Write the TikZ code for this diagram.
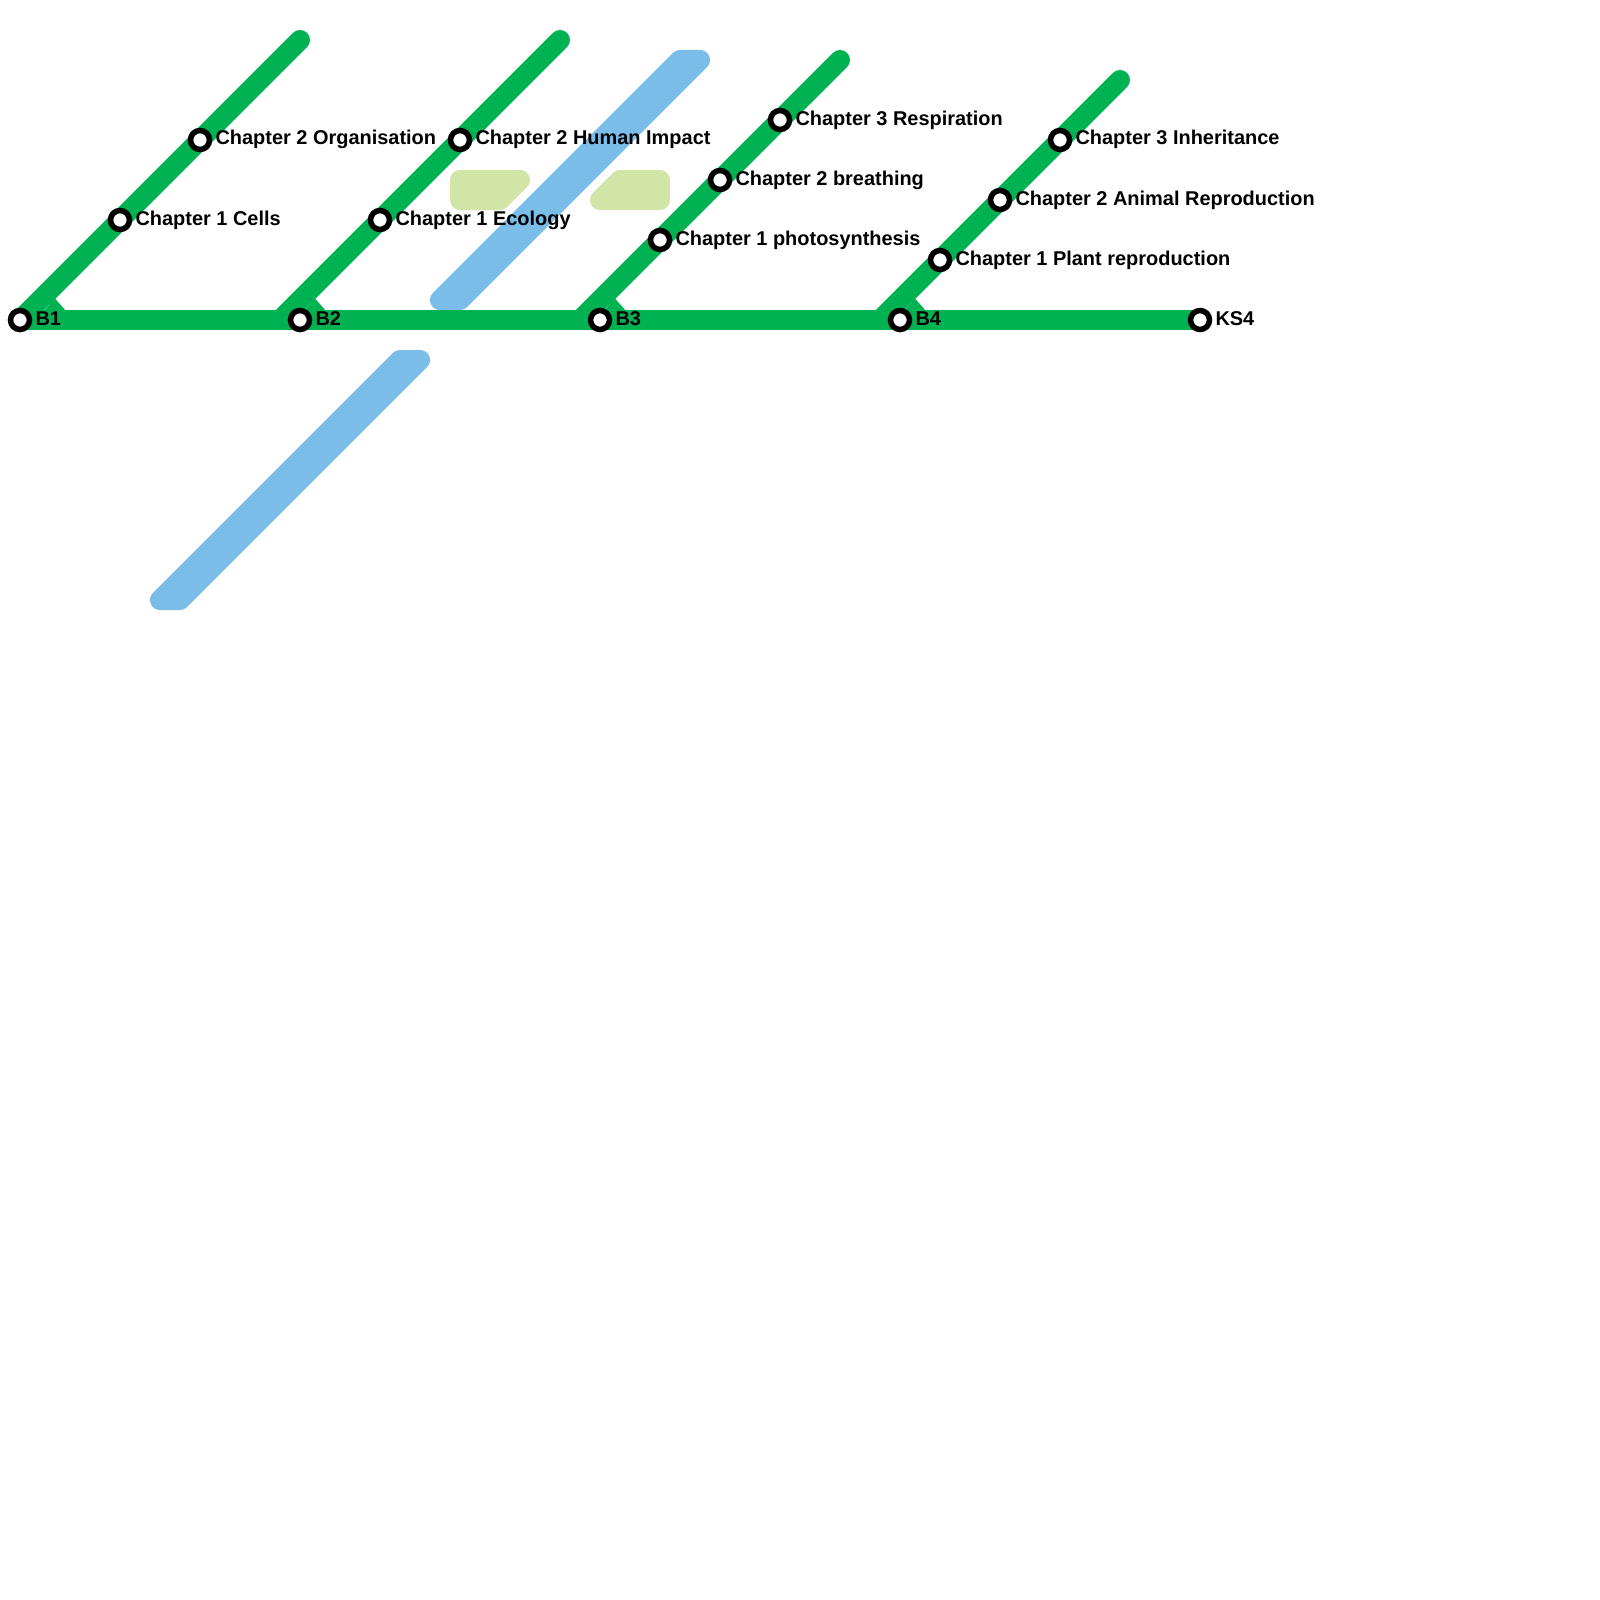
\documentclass[tikz,border=0pt]{standalone}
\usepackage{fontspec}
\setmainfont{Liberation Sans}
\usetikzlibrary{backgrounds}
\definecolor{linegreen}{HTML}{00B251}
\definecolor{lineblue}{HTML}{79BDE8}
\definecolor{palegreen}{HTML}{D0E5A6}
\tikzset{
  x=1pt,y=-1pt,
  stn/.style={circle,draw=black,fill=white,line width=5.5pt,minimum size=19pt,inner sep=0pt,outer sep=0pt},
  lbl/.style={anchor=base west,inner sep=0pt,outer sep=0pt,font=\fontsize{19.95}{24}\selectfont\bfseries,text=black},
  gline/.style={draw=linegreen,line width=20pt,line cap=round},
  gjoin/.style={fill=linegreen},
  bluearea/.style={draw=lineblue,fill=lineblue,line width=20pt,line join=round},
  palearea/.style={draw=palegreen,fill=palegreen,line width=20pt,line join=round},
}
\begin{document}
\begin{tikzpicture}
\useasboundingbox (0,0) rectangle (1600,1600);
% stations
\node[stn] (b1) at (20,320) {};
\node[stn] (b2) at (300,320) {};
\node[stn] (b3) at (600,320) {};
\node[stn] (b4) at (900,320) {};
\node[stn] (ks4) at (1200,320) {};
\node[stn] (a1) at (120,220) {};
\node[stn] (a2) at (200,140) {};
\node[stn] (c1) at (380,220) {};
\node[stn] (c2) at (460,140) {};
\node[stn] (d1) at (660,240) {};
\node[stn] (d2) at (720,180) {};
\node[stn] (d3) at (780,120) {};
\node[stn] (e1) at (940,260) {};
\node[stn] (e2) at (1000,200) {};
\node[stn] (e3) at (1060,140) {};
% free ends
\coordinate (ta) at (300,40);
\coordinate (tc) at (560,40);
\coordinate (td) at (840,60);
\coordinate (te) at (1120,80);
\coordinate (ba) at (20,320);
\coordinate (bc) at (280,320);
\coordinate (bd) at (580,320);
\coordinate (be) at (880,320);
% labels
\node[lbl] (tb1) at (35.5,325) {B1};
\node[lbl] (tb2) at (315.5,325) {B2};
\node[lbl] (tb3) at (615.5,325) {B3};
\node[lbl] (tb4) at (915.5,325) {B4};
\node[lbl] (tks4) at (1215.5,325) {KS4};
\node[lbl] (ta1) at (135.5,225) {Chapter 1 Cells};
\node[lbl] (ta2) at (215.5,145) {Chapter 2 Organisation};
\node[lbl] (tc1) at (395.5,225) {Chapter 1 Ecology};
\node[lbl] (tc2) at (475.5,145) {Chapter 2 Human Impact};
\node[lbl] (td1) at (675.5,245) {Chapter 1 photosynthesis};
\node[lbl] (td2) at (735.5,185) {Chapter 2 breathing};
\node[lbl] (td3) at (795.5,125) {Chapter 3 Respiration};
\node[lbl] (te1) at (955.5,265) {Chapter 1 Plant reproduction};
\node[lbl] (te2) at (1015.5,205) {Chapter 2 Animal Reproduction};
\node[lbl] (te3) at (1075.5,145) {Chapter 3 Inheritance};
\begin{scope}[on background layer]
  \fill[white] (0,0) rectangle (1600,1600);
  % pale areas
  \path[palearea] (460,180) -- (520,180) -- (500,200) -- (460,200) -- cycle;
  \path[palearea] (620,180) -- (660,180) -- (660,200) -- (600,200) -- cycle;
  % blue areas
  \path[bluearea] (680,60) -- (700,60) -- (460,300) -- (440,300) -- cycle;
  \path[bluearea] (400,360) -- (420,360) -- (180,600) -- (160,600) -- cycle;
  % green lines
  \draw[gline] (ta) -- (a2.center) -- (a1.center) -- (ba);
  \draw[gline] (tc) -- (c2.center) -- (c1.center) -- (bc);
  \draw[gline] (td) -- (d3.center) -- (d2.center) -- (d1.center) -- (bd);
  \draw[gline] (te) -- (e3.center) -- (e2.center) -- (e1.center) -- (be);
  \fill[gjoin] (44,311) -- (55,298.5) -- (66,311) -- cycle;
  \fill[gjoin] (304,311) -- (315,298.5) -- (326,311) -- cycle;
  \fill[gjoin] (604,311) -- (615,298.5) -- (626,311) -- cycle;
  \fill[gjoin] (904,311) -- (915,298.5) -- (926,311) -- cycle;
  \draw[gline] (b1.center) -- (b2.center) -- (b3.center) -- (b4.center) -- (ks4.center);
\end{scope}
\end{tikzpicture}
\end{document}
